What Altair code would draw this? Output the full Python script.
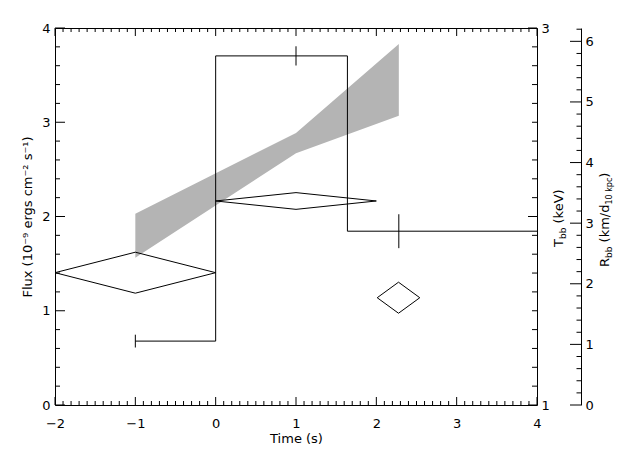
import altair as alt
import pandas as pd

# ---------------- data ----------------
# grey band (flux, left axis)
band_time = [-1.0, 1.0, 2.28]
band_upper = [2.03, 2.886, 3.83]
band_lower = [1.563, 2.671, 3.07]

# histogram of T_bb (right inner axis): bin edges and values
step_edges = [-1.0, 0.0, 1.64, 4.0]
step_T = [1.339, 2.852, 1.922]

# error bars on T_bb
err_time = [-1.0, 1.0, 2.28]
err_T = [1.339, 2.852, 1.922]
err_dT = [0.034, 0.051, 0.090]

# R_bb diamonds (outer right axis): centre and half-widths
diam_time = [-1.0, 1.0, 2.276]
diam_dtime = [1.0, 1.0, 0.265]
diam_R = [2.183, 3.366, 1.770]
diam_dR = [0.338, 0.138, 0.256]

# axis ticks
x_major = [-2, -1, 0, 1, 2, 3, 4]
x_minor = [round(k / 10, 1) for k in range(-20, 41) if k % 10 != 0]
flux_major = [0, 1, 2, 3, 4]
flux_minor = [round(k / 5, 1) for k in range(0, 21) if k % 5 != 0]
T_major = [1, 2, 3]
T_minor = [round(k / 10, 1) for k in range(10, 31) if k % 10 != 0]
R_major = [0, 1, 2, 3, 4, 5, 6]
R_minor = [round(k / 5, 1) for k in range(0, 32) if k % 5 != 0]

# ---------------- layout ----------------
W, H = 482, 377
R_OFF = 44
FONT = "DejaVu Sans"

XS = alt.Scale(domain=[-2, 4], nice=False, zero=False)
FS = alt.Scale(domain=[0, 4], nice=False, zero=False)
TS = alt.Scale(domain=[1, 3], nice=False, zero=False)
RS = alt.Scale(domain=[0, 6.22], nice=False, zero=False)

# ---------------- tables ----------------
band_df = pd.DataFrame({"t": band_time, "hi": band_upper, "lo": band_lower})
step_df = pd.DataFrame({"t": step_edges, "T": step_T + [step_T[-1]]})
err_df = pd.DataFrame({
    "t": err_time,
    "lo": [v - e for v, e in zip(err_T, err_dT)],
    "hi": [v + e for v, e in zip(err_T, err_dT)],
})
rows = []
for i, (t, dt, r, dr) in enumerate(zip(diam_time, diam_dtime, diam_R, diam_dR)):
    verts = [(t - dt, r), (t, r + dr), (t + dt, r), (t, r - dr), (t - dt, r)]
    for j, (vx, vy) in enumerate(verts):
        rows.append({"id": i, "o": j, "t": vx, "R": vy})
diam_df = pd.DataFrame(rows)
dummy = pd.DataFrame({"v": [2.0]})

# ---------------- data layers ----------------
band = alt.Chart(band_df).mark_area(color="#b4b4b4", opacity=1).encode(
    x=alt.X("t:Q", scale=XS, axis=None),
    y=alt.Y("hi:Q", scale=FS, axis=None),
    y2="lo:Q",
)
step = alt.Chart(step_df).mark_line(color="black", strokeWidth=1, interpolate="step-after").encode(
    x=alt.X("t:Q", scale=XS, axis=None),
    y=alt.Y("T:Q", scale=TS, axis=None),
)
errs = alt.Chart(err_df).mark_rule(color="black", strokeWidth=1).encode(
    x=alt.X("t:Q", scale=XS, axis=None),
    y=alt.Y("lo:Q", scale=TS, axis=None),
    y2="hi:Q",
)
diam = alt.Chart(diam_df).mark_line(color="black", strokeWidth=1).encode(
    x=alt.X("t:Q", scale=XS, axis=None),
    y=alt.Y("R:Q", scale=RS, axis=None),
    detail="id:N",
    order="o:Q",
)


# ---------------- axes (labels + frame lines) ----------------
def xaxis(**kw):
    return alt.Chart(dummy).mark_point(opacity=0).encode(
        x=alt.X("v:Q", scale=XS, axis=alt.Axis(**kw)))


def yaxis(scale, **kw):
    return alt.Chart(dummy).mark_point(opacity=0).encode(
        y=alt.Y("v:Q", scale=scale, axis=alt.Axis(**kw)))


axes = [
    xaxis(orient="bottom", values=x_major, ticks=False, domain=True, labelPadding=12,
          labelFlush=False, format="d", title="Time (s)", titlePadding=2),
    xaxis(orient="top", values=x_major, ticks=False, labels=False, domain=True, title=None),
    yaxis(FS, orient="left", values=flux_major, ticks=False, domain=True, labelPadding=5,
          labelFlush=False, format="d", title="Flux (10⁻⁹ ergs cm⁻² s⁻¹)", titlePadding=7),
    yaxis(TS, orient="right", values=T_major, ticks=False, domain=True, labelPadding=4,
          labelFlush=False, format="d", title=None),
    yaxis(RS, orient="right", offset=R_OFF, values=R_major, ticks=False, domain=True,
          labelPadding=4, labelFlush=False, format="d", title=None),
]


# ---------------- inward tick marks, placed through the scales ----------------
def xticks(values, length, top):
    return alt.Chart(pd.DataFrame({"v": values})).mark_rule(color="black", strokeWidth=1).encode(
        x=alt.X("v:Q", scale=XS, axis=None),
        y=alt.value(0 if top else H),
        y2=alt.value(length if top else H - length),
    )


def yticks(values, scale, x0, x1):
    return alt.Chart(pd.DataFrame({"v": values})).mark_rule(color="black", strokeWidth=1).encode(
        y=alt.Y("v:Q", scale=scale, axis=None),
        x=alt.value(x0),
        x2=alt.value(x1),
    )


ticks = [
    xticks(x_major, 8, False), xticks(x_minor, 4, False),
    xticks(x_major, 8, True), xticks(x_minor, 4, True),
    yticks(flux_major, FS, 0, 10), yticks(flux_minor, FS, 0, 5),
    yticks(T_major, TS, W, W - 9), yticks(T_minor, TS, W, W - 5),
    yticks(R_major, RS, W + R_OFF, W + R_OFF - 11), yticks(R_minor, RS, W + R_OFF, W + R_OFF - 4.5),
]

# ---------------- rotated titles with subscripts ----------------
WID = {"T": 0.611, "b": 0.635, " ": 0.318, "(": 0.390, "k": 0.579, "e": 0.615,
       "V": 0.684, ")": 0.390, "R": 0.695, "m": 0.974, "/": 0.337, "d": 0.635,
       "1": 0.636, "0": 0.636, "p": 0.635, "c": 0.550}


def rotated_title(pieces, x, y):
    out = []
    dx = 0.0
    for text, size, dy in pieces:
        lead = len(text) - len(text.lstrip(" "))
        dx += lead * WID[" "] * size
        body = text.lstrip(" ")
        out.append(alt.Chart(dummy).mark_text(
            text=body, angle=270, align="left", baseline="alphabetic", font=FONT,
            fontSize=size, dx=dx, dy=dy, color="black").encode(
            x=alt.value(x), y=alt.value(y)))
        dx += sum(WID.get(ch, 0.6) for ch in body) * size
    return out


titles = rotated_title([("T", 13, 0), ("bb", 9, 3), (" (keV)", 13, 0)], 508, 219)
titles += rotated_title([("R", 13, 0), ("bb", 9, 3), (" (km/", 13, 0), ("d", 13, 0),
                         ("10 kpc", 8, 3), (")", 13, 0)], 553.5, 239)

chart = alt.layer(band, step, errs, diam, *axes, *titles, *ticks).resolve_scale(
    y="independent"
).resolve_axis(
    x="independent", y="independent"
).properties(
    width=W, height=H,
    padding={"left": 47, "top": 20, "right": 90, "bottom": 40},
    autosize=alt.AutoSizeParams(type="none"),
    background="white",
).configure_view(stroke=None).configure_axis(
    grid=False, domainColor="black", tickColor="black", tickWidth=1, domainWidth=1,
    labelColor="black", labelFont=FONT, labelFontSize=13,
    titleFont=FONT, titleFontSize=13, titleFontWeight="normal", titleColor="black",
)

chart.save("out.html", embed_options={"renderer": "svg", "actions": False})
